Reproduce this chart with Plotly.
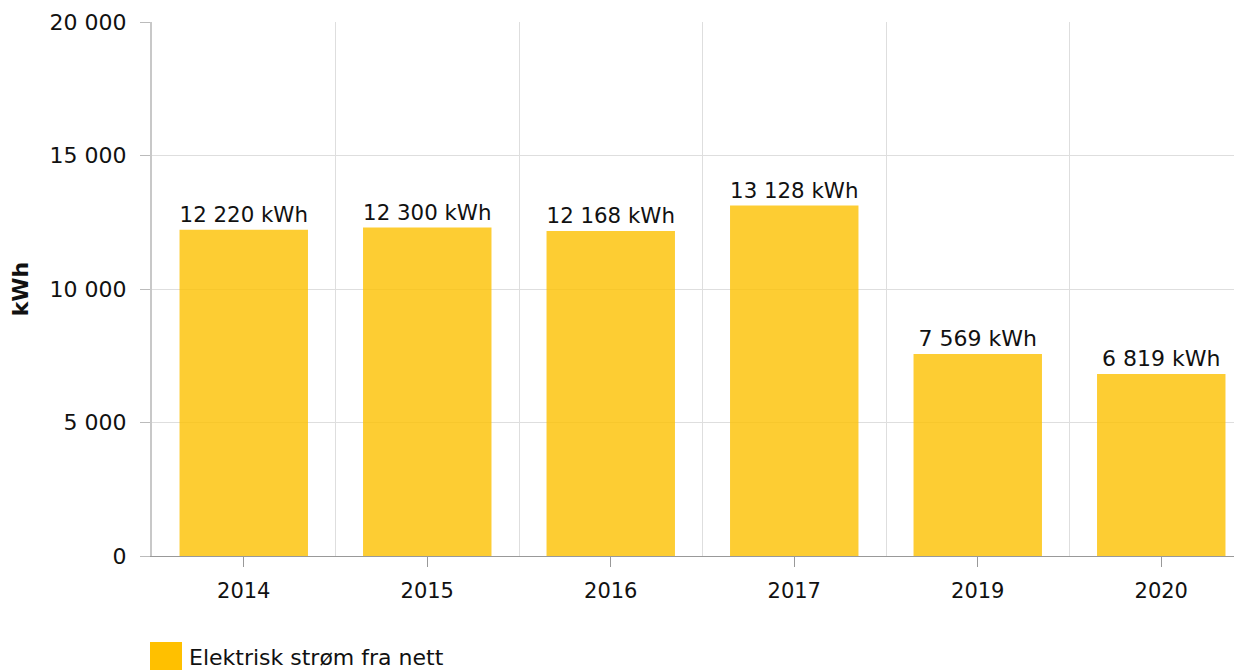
import plotly.graph_objects as go

years = ["2014", "2015", "2016", "2017", "2019", "2020"]
values = [12220, 12300, 12168, 13128, 7569, 6819]
series_name = "Elektrisk strøm fra nett"
y_ticks = [0, 5000, 10000, 15000, 20000]

# page has an 8px body margin; figure sized to end exactly at 1242x670
W, H = 1234, 662
L, R, T, B = 144, 0, 14, 114
pw, ph = W - L - R, H - T - B
CAT = 183.5  # pixels per category

FONT = "DejaVu Sans"
x_pos = list(range(len(years)))

fig = go.Figure()
fig.add_trace(go.Bar(
    x=x_pos, y=values, width=0.70,
    marker=dict(color="rgba(252,192,0,0.80)", line=dict(width=0)),
    texttemplate="%{y:,} kWh", textposition="outside",
    textfont=dict(family=FONT, size=22, color="#111"),
    cliponaxis=False, showlegend=False, name=series_name,
))

# legend (swatch + label)
fig.add_shape(type="rect", xref="paper", yref="paper",
              x0=-2 / pw, x1=30 / pw, y0=(ph - (662 - T)) / ph - 0.02, y1=(ph - (634 - T)) / ph,
              fillcolor="#FFC000", line=dict(width=0), layer="above")
fig.add_annotation(xref="paper", yref="paper", x=35 / pw, y=(ph - (649 - T)) / ph,
                   xanchor="left", yanchor="middle", showarrow=False,
                   text=series_name, font=dict(family=FONT, size=22, color="#111"))

fig.update_layout(
    width=W, height=H,
    margin=dict(l=L, r=R, t=T, b=B, pad=0),
    paper_bgcolor="white", plot_bgcolor="white",
    separators=", ",
    font=dict(family=FONT, size=21, color="#111"),
    bargap=0.3,
)
fig.update_xaxes(
    range=[-0.5, -0.5 + pw / CAT],
    tickvals=x_pos, ticktext=years,
    ticks="outside", ticklen=10, tickcolor="#999", tickwidth=1,
    showgrid=False,
    minor=dict(tick0=0.5, dtick=1, showgrid=True, gridcolor="#dedede", gridwidth=1, ticks=""),
    showline=True, linecolor="#999", linewidth=1,
    tickfont=dict(family=FONT, size=21, color="#111"),
    ticklabelstandoff=6,
    zeroline=False,
)
fig.update_yaxes(
    range=[0, 20000], tickvals=y_ticks, tickformat=",",
    ticks="outside", ticklen=10, tickcolor="#bbb", tickwidth=1,
    showgrid=True, gridcolor="#dedede", gridwidth=1,
    showline=True, linecolor="#c8c8c8", linewidth=2,
    tickfont=dict(family=FONT, size=22, color="#111"),
    ticklabelstandoff=9,
    zeroline=False,
    title=dict(text="<b>kWh</b>", font=dict(family=FONT, size=22, color="#111"), standoff=18),
)

fig.write_html("out.html")
